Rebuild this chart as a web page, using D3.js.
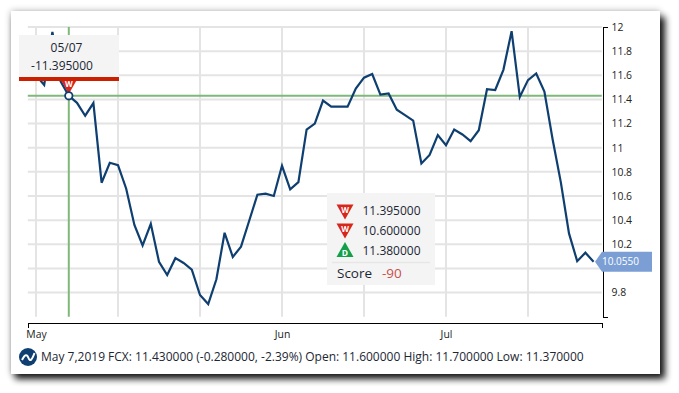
<!DOCTYPE html>
<html>
<head>
<meta charset="utf-8">
<script src="https://cdn.jsdelivr.net/npm/d3@7"></script>
<style>
  html, body { margin: 0; padding: 0; background: #fff; overflow: hidden; }
  svg { display: block; font-family: "Open Sans", sans-serif; }
  .axis path { stroke: #000; fill: none; shape-rendering: crispEdges; }
  .axis text { font-size: 10.4px; fill: #222; font-family: "Open Sans", sans-serif; }
  .grid line { stroke: #e4e4e4; stroke-width: 2; }
</style>
</head>
<body>
<svg width="679" height="393"></svg>
<script>
// closes, one per session (the first and fourth ones sit behind the tooltip, so those are guesses)
const closes = [
  11.60, 11.52, 11.96, 11.55, 11.43, 11.372, 11.265, 11.37, 10.71, 10.875,
  10.855, 10.66, 10.36, 10.19, 10.37, 10.055, 9.945, 10.085, 10.045, 9.99,
  9.78, 9.705, 9.91, 10.295, 10.095, 10.18, 10.395, 10.61, 10.62, 10.60,
  10.85, 10.655, 10.715, 11.15, 11.20, 11.39, 11.34, 11.34, 11.34, 11.49,
  11.58, 11.61, 11.44, 11.45, 11.315, 11.27, 11.225, 10.87, 10.94, 11.105,
  11.02, 11.15, 11.11, 11.055, 11.145, 11.485, 11.478, 11.645, 11.965, 11.42,
  11.56, 11.615, 11.465, 11.07, 10.715, 10.29, 10.06, 10.13, 10.055
];
const priceTicks = [12, 11.8, 11.6, 11.4, 11.2, 11, 10.8, 10.6, 10.4, 10.2, 10, 9.8];
const priceLabels = ["12", "11.8", "11.6", "11.4", "11.2", "11", "10.8", "10.6", "10.4", "10.2", "", "9.8"];
const gridSessions = [1, 11, 21, 31, 41, 51, 61];
const monthSessions = [1, 31, 51];
const monthLabels = ["May", "Jun", "Jul"];
const selectedSession = 5;
const selectedPrice = 11.43;
const lastPrice = 10.055;
const tooltipLines = ["05/07", "-11.395000"];
const signals = [
  { type: "W", value: "11.395000" },
  { type: "W", value: "10.600000" },
  { type: "D", value: "11.380000" }
];
const scoreValue = "-90";
const statusText = "May 7,2019 FCX: 11.430000 (-0.280000, -2.39%) Open: 11.600000 High: 11.700000 Low: 11.370000";

const NAVY = "#0e3f70", GREEN = "#7fb97a", RED = "#cc1f00";

const svg = d3.select("svg");

// card: a faint glow all round plus the heavy bottom right shadow
const defs = svg.append("defs");
const glow = defs.append("filter").attr("id", "cardGlow")
  .attr("x", "-5%").attr("y", "-5%").attr("width", "110%").attr("height", "110%");
glow.append("feGaussianBlur").attr("stdDeviation", 3.5);
const heavy = defs.append("filter").attr("id", "cardHeavy")
  .attr("x", "-5%").attr("y", "-5%").attr("width", "110%").attr("height", "110%");
heavy.append("feGaussianBlur").attr("stdDeviation", 3.6);

svg.append("rect").attr("x", 11).attr("y", 11).attr("width", 649).attr("height", 363)
  .attr("fill", "#000").attr("opacity", 0.3).attr("filter", "url(#cardGlow)");
svg.append("rect").attr("x", 15).attr("y", 17).attr("width", 650).attr("height", 362)
  .attr("fill", "#000").attr("opacity", 0.9).attr("filter", "url(#cardHeavy)");
svg.append("rect").attr("x", 11).attr("y", 11).attr("width", 649).attr("height", 363).attr("fill", "#fff");

const x = d3.scaleLinear().domain([0, 70]).range([27.8, 601.8]);
const y = d3.scaleLinear().domain([9.6, 12]).range([316.7, 27]);

// grid
const grid = svg.append("g").attr("class", "grid");
grid.selectAll(".h").data(priceTicks).join("line").attr("class", "h")
  .attr("x1", x(0)).attr("x2", x(70)).attr("y1", d => y(d)).attr("y2", d => y(d));
grid.selectAll(".v").data(gridSessions).join("line").attr("class", "v")
  .attr("x1", d => x(d)).attr("x2", d => x(d)).attr("y1", y(12)).attr("y2", y(9.6));

// axes
const yAxis = d3.axisRight(y).tickValues(priceTicks)
  .tickFormat((d, i) => priceLabels[i]).tickSizeInner(0).tickSizeOuter(5).tickPadding(9);
const yG = svg.append("g").attr("class", "axis").attr("transform", "translate(602.5,0)").call(yAxis);
yG.selectAll(".tick line").remove();

const xAxis = d3.axisBottom(x).tickValues(monthSessions)
  .tickFormat((d, i) => monthLabels[i]).tickSizeInner(0).tickSizeOuter(5).tickPadding(8);
const xG = svg.append("g").attr("class", "axis").attr("transform", "translate(0,322.5)").call(xAxis);
xG.selectAll(".tick line").remove();

// crosshair
svg.append("line").attr("x1", x(0)).attr("x2", x(70)).attr("y1", y(selectedPrice)).attr("y2", y(selectedPrice))
  .attr("stroke", GREEN).attr("stroke-width", 2);
svg.append("line").attr("x1", x(selectedSession)).attr("x2", x(selectedSession)).attr("y1", y(12)).attr("y2", y(9.6))
  .attr("stroke", GREEN).attr("stroke-width", 2);

// price line
const line = d3.line().x((d, i) => x(i + 1)).y(d => y(d));
svg.append("path").datum(closes).attr("d", line)
  .attr("fill", "none").attr("stroke", NAVY).attr("stroke-width", 2.2).attr("stroke-linejoin", "miter");

// signal triangle, W points down in red, D points up in green
function drawSignal(cx, cy, type) {
  const g = svg.append("g").attr("transform", `translate(${cx},${cy})`);
  const down = type === "W";
  g.append("path")
    .attr("d", down ? "M-8.5,-7.5L8.5,-7.5L0,7.5Z" : "M0,-7.5L8.5,7.5L-8.5,7.5Z")
    .attr("fill", down ? "#d7261b" : "#14a04a");
  g.append("text").attr("text-anchor", "middle").attr("y", down ? 0.5 : 6)
    .attr("font-size", down ? 8 : 8.5).attr("font-weight", 700).attr("fill", "#fff").text(type);
}

drawSignal(x(selectedSession), 86.5, "W");

svg.append("circle").attr("cx", x(selectedSession)).attr("cy", y(selectedPrice)).attr("r", 3.7)
  .attr("fill", "#fff").attr("stroke", NAVY).attr("stroke-width", 1.8);

// tooltip
svg.append("rect").attr("x", 19).attr("y", 35).attr("width", 100).attr("height", 42).attr("fill", "#f4f4f4");
svg.append("rect").attr("x", 19).attr("y", 77).attr("width", 100).attr("height", 4).attr("fill", RED);
svg.selectAll(".tip").data(tooltipLines).join("text").attr("class", "tip")
  .attr("x", (d, i) => i ? 62 : 66.5).attr("y", (d, i) => 52 + i * 18)
  .attr("text-anchor", "middle").attr("font-size", 12).attr("fill", "#1c2733").text(d => d);

// signal box
svg.append("rect").attr("x", 327).attr("y", 193).attr("width", 108).attr("height", 92).attr("fill", "#f4f4f4");
signals.forEach((s, i) => {
  const cy = [212, 231, 249.5][i];
  drawSignal(345, cy, s.type);
  svg.append("text").attr("x", 362.5).attr("y", [214.5, 234.5, 255][i]).attr("font-size", 12).attr("fill", "#1c2733").text(s.value);
});
svg.append("line").attr("x1", 332).attr("x2", 430).attr("y1", 262.5).attr("y2", 262.5)
  .attr("stroke", "#e6e6e6").attr("stroke-width", 1.5);
svg.append("text").attr("x", 337).attr("y", 278).attr("font-size", 13.5).attr("fill", "#1c2733").text("Score");
svg.append("text").attr("x", 382).attr("y", 278).attr("font-size", 13.5).attr("fill", "#c8504a").text(scoreValue);

// last price flag
const flagY = y(lastPrice);
svg.append("path")
  .attr("d", `M595,${flagY}L602,${flagY - 10}L652,${flagY - 10}L652,${flagY + 10}L602,${flagY + 10}Z`)
  .attr("fill", "#7b9fd4");
svg.append("text").attr("x", 602).attr("y", flagY + 3.5).attr("font-size", 10).attr("fill", "#fff")
  .text(d3.format(".4f")(lastPrice));

// status row
svg.append("circle").attr("cx", 28).attr("cy", 357).attr("r", 9).attr("fill", NAVY);
svg.append("path").attr("d", "M22,360C25,354 27,354 28.5,358S32,360 34.5,353")
  .attr("fill", "none").attr("stroke", "#fff").attr("stroke-width", 2);
svg.append("text").attr("x", 41).attr("y", 361).attr("font-size", 12).attr("fill", "#1c2733").text(statusText);
</script>
</body>
</html>
